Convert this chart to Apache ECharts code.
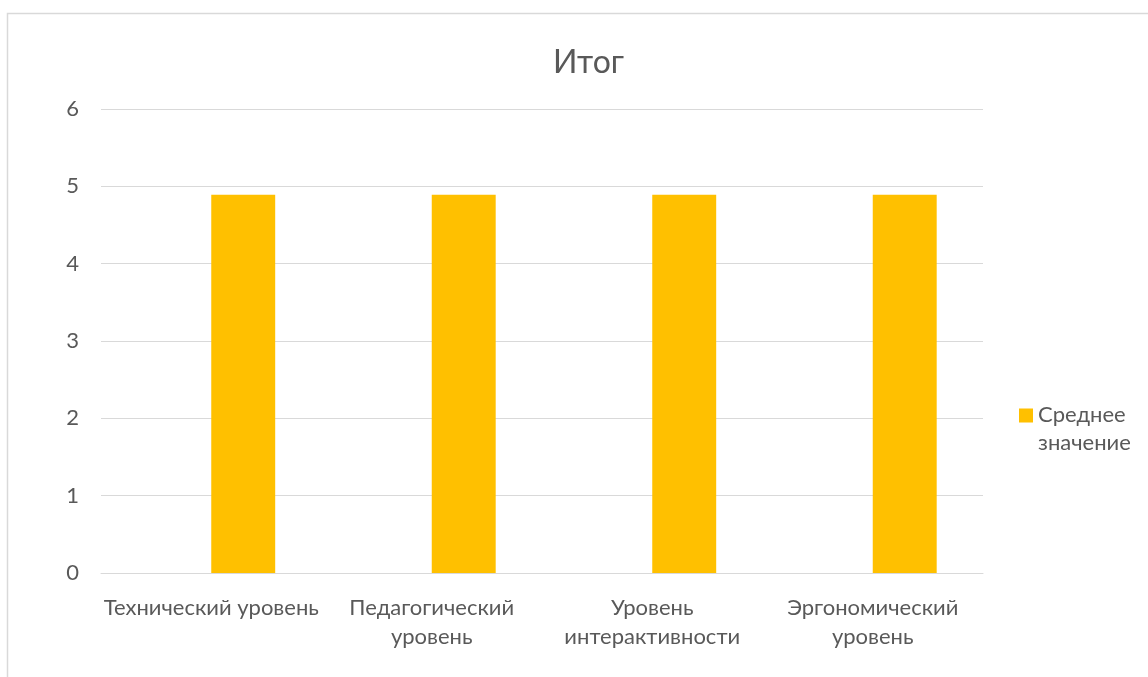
<!DOCTYPE html>
<html>
<head>
<meta charset="utf-8">
<script src="https://cdn.jsdelivr.net/npm/echarts@6/dist/echarts.min.js"></script>
<style>
    html, body { margin: 0; padding: 0; background: #fff; }
    #chart { width: 1148px; height: 677px; }
</style>
</head>
<body>
<div id="chart"></div>
<script>
var categories = ['Технический уровень', 'Педагогический\nуровень', 'Уровень\nинтерактивности', 'Эргономический\nуровень'];
var avgValues = [4.89, 4.89, 4.89, 4.89];
var emptyValues = [null, null, null, null]; // пустой ряд, как в исходной диаграмме
var seriesName = 'Среднее\nзначение';

var font = 'Lato, sans-serif';
var textColor = '#595959';

var myChart = echarts.init(document.getElementById('chart'));
myChart.setOption({
    backgroundColor: '#fff',
    animation: false,
    title: {
        text: 'Итог',
        left: 548,
        top: 42,
        textStyle: { fontFamily: font, fontSize: 32, fontWeight: 'normal', color: textColor }
    },
    legend: {
        data: [seriesName],
        left: 1014,
        top: 396,
        itemWidth: 14,
        itemHeight: 41,
        // квадрат сверху, чтобы он стоял на уровне первой строки
        icon: 'path://M0,0h14v14h-14z M0,41h14v0.01h-14z',
        textStyle: { fontFamily: font, fontSize: 22, color: textColor, lineHeight: 28 }
    },
    grid: { left: 101, right: 165, top: 109, bottom: 104, containLabel: false },
    xAxis: {
        type: 'category',
        data: categories,
        axisLine: { lineStyle: { color: '#d9d9d9', width: 1 } },
        axisTick: { show: false },
        axisLabel: { fontFamily: font, fontSize: 22, color: textColor, margin: 20, lineHeight: 29, interval: 0 }
    },
    yAxis: {
        type: 'value',
        min: 0,
        max: 6,
        interval: 1,
        axisLine: { show: false },
        axisTick: { show: false },
        splitLine: { lineStyle: { color: '#d9d9d9', width: 1 } },
        axisLabel: { fontFamily: font, fontSize: 22, color: textColor, margin: 22 }
    },
    series: [{
        name: 'empty',
        type: 'bar',
        data: emptyValues,
        barWidth: '29%',
        barGap: '0%'
    }, {
        name: seriesName,
        type: 'bar',
        data: avgValues,
        barWidth: '29%',
        barGap: '0%',
        itemStyle: { color: '#FFC000' }
    }],
    graphic: [{
        type: 'rect',
        shape: { x: 7.5, y: 13.5, width: 1200, height: 700 },
        style: { fill: 'none', stroke: '#d9d9d9', lineWidth: 1.5 },
        silent: true
    }]
});
</script>
</body>
</html>
